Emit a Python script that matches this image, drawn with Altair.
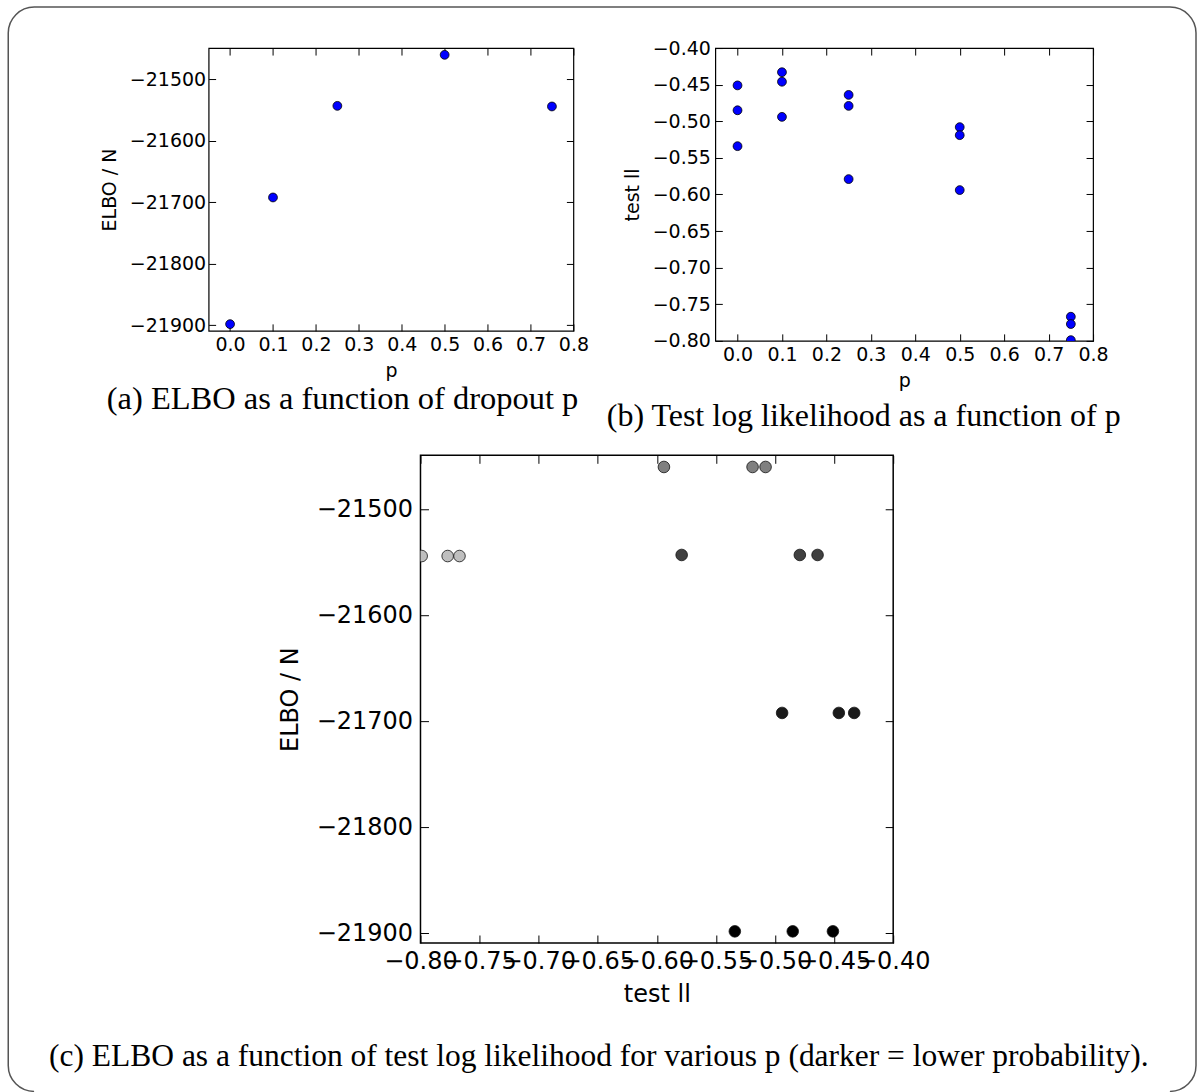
import math

import altair as alt
import pandas as pd

# Dropout probabilities and the ELBO / N reached for each of them
dropout_p = [0.0, 0.1, 0.25, 0.5, 0.75]
elbo_per_n = [-21898, -21692, -21543, -21460, -21544]

# Test log likelihood of the three runs made at each dropout probability
test_ll_runs = [
    [-0.451, -0.485, -0.534],
    [-0.433, -0.446, -0.494],
    [-0.464, -0.479, -0.579],
    [-0.508, -0.519, -0.594],
    [-0.767, -0.777, -0.799],
]

# Tick values
p_ticks = [0.0, 0.1, 0.2, 0.3, 0.4, 0.5, 0.6, 0.7, 0.8]
elbo_ticks = [-21900, -21800, -21700, -21600, -21500]
ll_ticks = [-0.80, -0.75, -0.70, -0.65, -0.60, -0.55, -0.50, -0.45, -0.40]

# Sub-figure captions
captions = [
    "(a) ELBO as a function of dropout p",
    "(b) Test log likelihood as a function of p",
    "(c) ELBO as a function of test log likelihood for various p (darker = lower probability).",
]

SANS = "DejaVu Sans"
SERIF = "Liberation Serif"

elbo_df = pd.DataFrame({"p": dropout_p, "elbo": elbo_per_n})
runs_df = pd.DataFrame(
    [
        {"p": p, "elbo": e, "ll": ll}
        for p, e, runs in zip(dropout_p, elbo_per_n, test_ll_runs)
        for ll in runs
    ]
)


def tick_axis(orient, values, fmt, tick, fs, title, label_pad, title_pad, labelled):
    """Axis whose ticks point into the plot (matplotlib classic look)."""
    opts = dict(
        orient=orient,
        values=values,
        offset=-tick,
        tickSize=tick,
        tickColor="black",
        tickWidth=1,
        domain=False,
        grid=False,
    )
    if labelled:
        opts.update(
            format=fmt,
            labelFont=SANS,
            labelFontSize=fs,
            labelColor="black",
            labelPadding=label_pad,
            labelFlush=False,
            labelOverlap=False,
            title=title,
            titleFont=SANS,
            titleFontSize=fs,
            titleFontWeight="normal",
            titleColor="black",
            titlePadding=title_pad,
        )
    else:
        opts.update(labels=False, title=None)
    return alt.Axis(**opts)


def panel(df, xf, yf, xdom, ydom, xt, yt, xfmt, yfmt, xtitle, ytitle,
          width, height, fs, tick, pads, size, caption, cap_size, cap_dx,
          cap_offset, color=None, frame_width=1.2):
    xs = alt.Scale(domain=xdom, nice=False, zero=False)
    ys = alt.Scale(domain=ydom, nice=False, zero=False)
    lx, ly, tx, ty = pads
    enc = dict(
        x=alt.X(f"{xf}:Q", scale=xs,
                axis=tick_axis("bottom", xt, xfmt, tick, fs, xtitle, lx, tx, True)),
        y=alt.Y(f"{yf}:Q", scale=ys,
                axis=tick_axis("left", yt, yfmt, tick, fs, ytitle, ly, ty, True)),
    )
    if color is not None:
        enc["color"] = color
        mark = alt.Chart(df).mark_circle(size=size, opacity=1, stroke="#111111",
                                         strokeWidth=0.8, clip=True)
    else:
        mark = alt.Chart(df).mark_circle(size=size, opacity=1, color="#0000ff",
                                         stroke="black", strokeWidth=0.8, clip=True)
    main = mark.encode(**enc)
    mirror = alt.Chart(df).mark_circle(opacity=0).encode(
        x=alt.X(f"{xf}:Q", scale=xs,
                axis=tick_axis("top", xt, xfmt, tick, fs, None, 0, 0, False)),
        y=alt.Y(f"{yf}:Q", scale=ys,
                axis=tick_axis("right", yt, yfmt, tick, fs, None, 0, 0, False)),
    )
    return (
        alt.layer(main, mirror)
        .resolve_axis(x="independent", y="independent")
        .properties(
            width=width,
            height=height,
            view=alt.ViewBackground(stroke="black", strokeWidth=frame_width),
            title=alt.TitleParams(
                text=caption,
                orient="bottom",
                anchor="middle",
                frame="group",
                dx=cap_dx,
                offset=cap_offset,
                baseline="alphabetic",
                font=SERIF,
                fontSize=cap_size,
                fontWeight="normal",
                color="black",
            ),
        )
    )


chart_a = panel(
    elbo_df, "p", "elbo", [-0.05, 0.8], [-21909, -21449], p_ticks, elbo_ticks,
    ".1f", "d", "p", "ELBO / N", 365, 283, 19, 7, (4.5, 3, 7, 10), 78,
    captions[0], 32.5, -48.5, 29,
)

chart_b = panel(
    runs_df, "p", "ll", [-0.05, 0.8], [-0.80, -0.40], p_ticks, ll_ticks,
    ".1f", ".2f", "p", "test ll", 378, 293, 19, 7, (5, 5, 7, 10), 78,
    captions[1], 32, -40.5, 35,
)

gray_scale = alt.Color(
    "p:Q",
    scale=alt.Scale(domain=[0, 1], range=["#000000", "#ffffff"], interpolate="rgb"),
    legend=None,
)

chart_c = panel(
    runs_df, "ll", "elbo", [-0.80, -0.40], [-21909, -21449], ll_ticks, elbo_ticks,
    ".2f", "d", "test ll", "ELBO / N", 473, 488, 24, 8, (7, 8, 9, 14), 135,
    captions[2], 31.5, -58, 59, color=gray_scale, frame_width=1.5,
)

# Rounded outline around the whole figure; only its bottom edge is left open.
fx0, fx1, fy0, fy1, rad = -200.5, 988.0, -448.5, 636.5, 26
fw, fh = fx1 - fx0, fy1 - fy0
arc = math.pi * rad / 2
dash = [
    (fw - 2 * rad) + arc + (fh - 2 * rad) + arc,
    (fw - 2 * rad),
    arc + (fh - 2 * rad) + arc + 20,
]
outline = (
    alt.Chart(pd.DataFrame({"k": [0]}))
    .mark_rect(cornerRadius=rad, fill="transparent", stroke="#555555",
               strokeWidth=1.5, strokeDash=dash)
    .encode(x=alt.value(fx0), x2=alt.value(fx1), y=alt.value(fy0), y2=alt.value(fy1))
    .properties(width=70, height=20, view=alt.ViewBackground(stroke="transparent"))
)

top_row = alt.hconcat(chart_a, chart_b, spacing=142, bounds="flush")
bottom_row = alt.hconcat(outline, chart_c, spacing=142, bounds="flush")

chart = alt.vconcat(
    top_row, bottom_row, spacing=407.5, bounds="flush"
).properties(
    padding={"left": 6.75, "top": 4.75, "right": 0, "bottom": 0},
    background="white",
)

chart.save("out.html", embed_options={"renderer": "svg", "actions": False})
